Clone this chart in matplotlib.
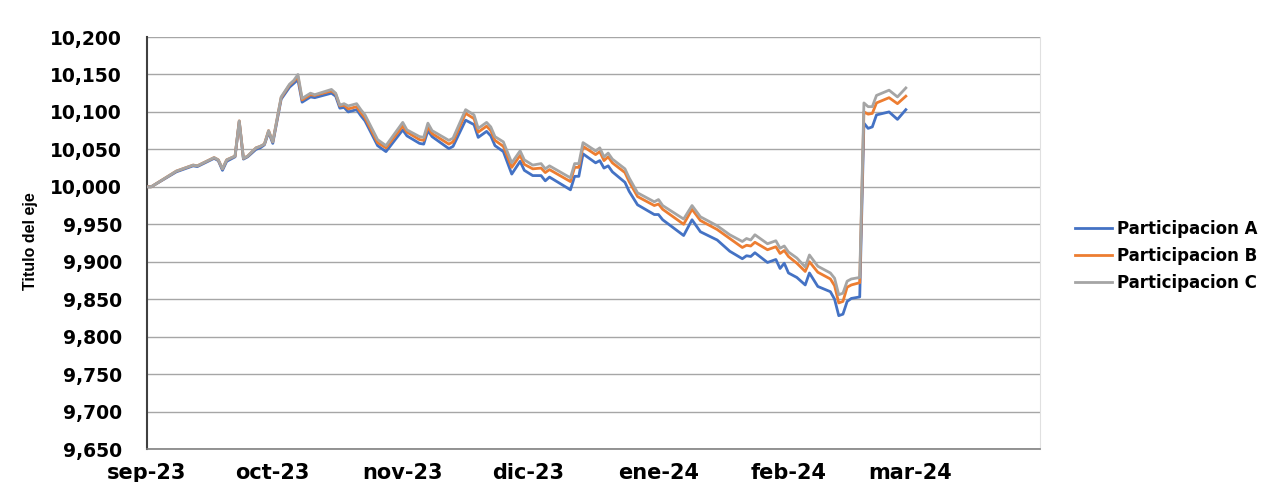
import matplotlib
matplotlib.use("Agg")
import matplotlib.pyplot as plt
import matplotlib.ticker as mticker
import pandas as pd

dates = [
    "2023-09-01", "2023-09-02", "2023-09-08", "2023-09-12", "2023-09-13", "2023-09-17", "2023-09-18",
    "2023-09-19", "2023-09-20", "2023-09-22", "2023-09-23", "2023-09-24", "2023-09-25", "2023-09-27",
    "2023-09-28", "2023-09-29", "2023-09-30",
    "2023-10-01", "2023-10-03", "2023-10-05", "2023-10-06", "2023-10-07", "2023-10-08", "2023-10-10",
    "2023-10-11", "2023-10-15", "2023-10-16", "2023-10-17", "2023-10-18", "2023-10-19", "2023-10-21",
    "2023-10-22", "2023-10-23", "2023-10-26", "2023-10-28",
    "2023-11-01", "2023-11-02", "2023-11-05", "2023-11-06", "2023-11-07", "2023-11-08", "2023-11-12",
    "2023-11-13", "2023-11-16", "2023-11-18", "2023-11-19", "2023-11-21", "2023-11-22", "2023-11-23",
    "2023-11-25", "2023-11-27", "2023-11-29", "2023-11-30",
    "2023-12-02", "2023-12-04", "2023-12-05", "2023-12-06", "2023-12-11", "2023-12-12", "2023-12-13",
    "2023-12-14", "2023-12-17", "2023-12-18", "2023-12-19", "2023-12-20", "2023-12-21", "2023-12-24",
    "2023-12-25", "2023-12-27", "2023-12-31",
    "2024-01-01", "2024-01-02", "2024-01-07", "2024-01-09", "2024-01-11", "2024-01-15", "2024-01-18",
    "2024-01-21", "2024-01-22", "2024-01-23", "2024-01-24", "2024-01-27", "2024-01-29", "2024-01-30",
    "2024-01-31",
    "2024-02-01", "2024-02-03", "2024-02-05", "2024-02-06", "2024-02-08", "2024-02-11", "2024-02-12",
    "2024-02-13", "2024-02-14", "2024-02-15", "2024-02-16", "2024-02-18", "2024-02-19", "2024-02-20",
    "2024-02-21", "2024-02-22", "2024-02-25", "2024-02-27", "2024-02-29",
]

part_a = [
    10000, 10000, 10020, 10028, 10027, 10038, 10035, 10022, 10034, 10040, 10087, 10037, 10040, 10050,
    10052, 10056, 10073,
    10058, 10117, 10133, 10138, 10143, 10113, 10120, 10119, 10125, 10121, 10105, 10106, 10100, 10103,
    10095, 10088, 10055, 10047,
    10076, 10068, 10058, 10057, 10075, 10067, 10051, 10054, 10089, 10083, 10066, 10074, 10068, 10055,
    10047, 10017, 10034, 10022,
    10015, 10015, 10008, 10013, 9996, 10014, 10014, 10044, 10032, 10035, 10025, 10028, 10020, 10006,
    9994, 9976, 9963,
    9963, 9956, 9935, 9956, 9940, 9929, 9914, 9904, 9908, 9907, 9912, 9899, 9903, 9891, 9898,
    9885, 9879, 9869, 9885, 9867, 9860, 9850, 9828, 9830, 9847, 9851, 9853, 10085, 10078, 10080,
    10096, 10100, 10090, 10103,
]

part_b = [
    10000, 10000, 10021, 10029, 10028, 10039, 10036, 10024, 10036, 10041, 10088, 10038, 10041, 10052,
    10054, 10057, 10075,
    10060, 10119, 10136, 10141, 10147, 10116, 10123, 10122, 10128, 10124, 10108, 10109, 10104, 10107,
    10099, 10092, 10059, 10052,
    10081, 10073, 10063, 10062, 10080, 10071, 10057, 10060, 10098, 10091, 10073, 10081, 10075, 10062,
    10054, 10026, 10042, 10030,
    10024, 10025, 10019, 10023, 10007, 10026, 10026, 10054, 10043, 10047, 10035, 10040, 10032, 10019,
    10007, 9987, 9975,
    9977, 9970, 9950, 9970, 9955, 9943, 9931, 9919, 9922, 9921, 9926, 9916, 9920, 9911, 9915,
    9907, 9898, 9887, 9900, 9886, 9877, 9868, 9845, 9847, 9866, 9869, 9872, 10100, 10097, 10098,
    10112, 10119, 10111, 10121,
]

part_c = [
    10000, 10000, 10021, 10029, 10028, 10039, 10036, 10024, 10036, 10041, 10088, 10038, 10041, 10052,
    10054, 10057, 10075,
    10060, 10120, 10137, 10142, 10150, 10118, 10125, 10123, 10130, 10125, 10109, 10111, 10108, 10111,
    10103, 10096, 10063, 10055,
    10086, 10076, 10067, 10066, 10085, 10075, 10062, 10065, 10103, 10096, 10078, 10086, 10080, 10067,
    10060, 10032, 10048, 10036,
    10029, 10031, 10024, 10028, 10012, 10031, 10031, 10059, 10048, 10052, 10040, 10045, 10037, 10024,
    10012, 9992, 9980,
    9983, 9975, 9957, 9975, 9960, 9948, 9936, 9927, 9931, 9929, 9936, 9924, 9928, 9918, 9921,
    9913, 9905, 9893, 9909, 9894, 9885, 9878, 9856, 9858, 9874, 9877, 9879, 10112, 10107, 10107,
    10122, 10129, 10120, 10132,
]

series_names = ["Participacion A", "Participacion B", "Participacion C"]
series_colors = ["#4472C4", "#ED7D31", "#A5A5A5"]

month_ticks = ["2023-09-01", "2023-10-01", "2023-11-01", "2023-12-01", "2024-01-01", "2024-02-01", "2024-03-01"]
month_labels = ["sep-23", "oct-23", "nov-23", "dic-23", "ene-24", "feb-24", "mar-24"]
y_title = "Titulo del eje"

x = pd.to_datetime(dates)

W, H = 1267, 482
fig = plt.figure(figsize=(W / 100, H / 100), dpi=100)
ax = fig.add_axes([147 / W, 1 - 449 / H, (1040 - 147) / W, (449 - 37) / H])

for vals, name, col in zip([part_a, part_b, part_c], series_names, series_colors):
    ax.plot(x, vals, color=col, lw=2.0, label=name, solid_joinstyle="round", zorder=3)

ax.set_xlim(pd.Timestamp("2023-09-01"), pd.Timestamp("2024-04-01"))
ax.set_ylim(9650, 10200)
ax.yaxis.set_major_locator(mticker.MultipleLocator(50))
ax.yaxis.set_major_formatter(mticker.FuncFormatter(lambda v, p: f"{v:,.0f}"))
ax.grid(axis="y", color="#a6a6a6", lw=1.0, zorder=0)
ax.set_axisbelow(True)

ax.set_xticks(pd.to_datetime(month_ticks))
ax.set_xticklabels(month_labels)

for lbl in ax.get_yticklabels():
    lbl.set_fontweight("bold")
    lbl.set_fontsize(13.5)
for lbl in ax.get_xticklabels():
    lbl.set_fontweight("bold")
    lbl.set_fontsize(15)

ax.tick_params(axis="y", length=0, pad=18)
ax.tick_params(axis="x", length=0, pad=10)

ax.spines["top"].set_visible(False)
ax.spines["right"].set_color("#e0e0e0")
ax.spines["right"].set_linewidth(0.8)
ax.spines["left"].set_color("#404040")
ax.spines["left"].set_linewidth(1.5)
ax.spines["bottom"].set_color("#808080")
ax.spines["bottom"].set_linewidth(1.2)

fig.text(30 / W, 1 - 241 / H, y_title, rotation=90, ha="center", va="center",
         fontsize=11.5, family="Liberation Sans", fontweight="bold")

fig.legend(loc="center left", bbox_to_anchor=(1060 / W, 1 - 256 / H), frameon=False,
           prop={"weight": "bold", "size": 12}, handlelength=2.2, handletextpad=0.3,
           labelspacing=0.55)

fig.savefig("out.png", dpi=100)
